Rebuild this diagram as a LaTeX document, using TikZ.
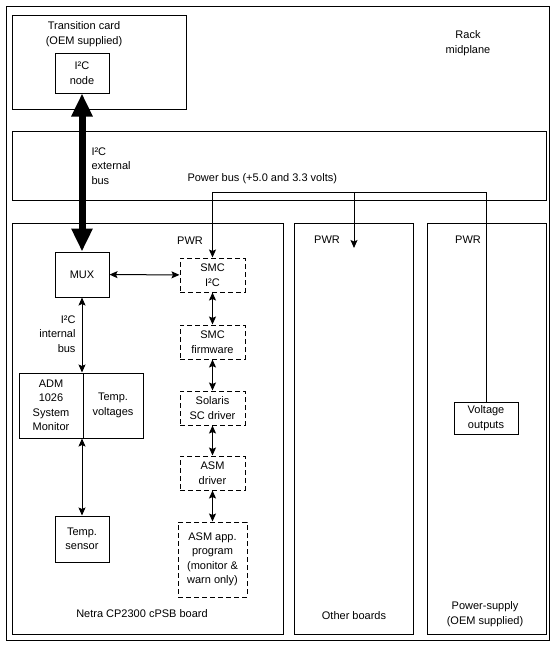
\documentclass[tikz,border=0pt]{standalone}
\usepackage{fontspec}
\setmainfont{Liberation Sans}
\usetikzlibrary{
  positioning,
  arrows.meta
}
\tikzset{
  >={Stealth[length=8pt,width=7pt,inset=1.5pt]},
  x=1pt, y=-1pt,
  every node/.style={font=\fontsize{11}{14.5}\selectfont, align=center, inner sep=0pt},
  frame/.style={draw, anchor=north west},
  unit/.style={draw, minimum width=54pt, minimum height=40pt},
  soft/.style={draw, dash pattern=on 5pt off 3pt, minimum width=65pt, minimum height=34pt},
  bus/.style={<->},
  fat/.style={{Triangle[width=20pt,length=23pt]}-{Triangle[width=20pt,length=23pt]}, line width=7pt}
}

\begin{document}
\begin{tikzpicture}[line width=1pt]
    \useasboundingbox (0,0) rectangle (556,645);
    % rack and boards
    \node[frame, minimum width=543pt, minimum height=634pt] (rack) at (6,6) {};
    \node[frame, minimum width=174pt, minimum height=94pt] (trans) at (12,15) {};
    \node[frame, minimum width=534pt, minimum height=69pt] (midbus) at (12,131) {};
    \node[frame, minimum width=271pt, minimum height=411pt] (netra) at (12,223) {};
    \node[frame, minimum width=119pt, minimum height=411pt] (other) at (294,223) {};
    \node[frame, minimum width=119pt, minimum height=411pt] (psu) at (427,223) {};

    % labels
    \node (translbl) at (84,34) {Transition card\\(OEM supplied)};
    \node (racklbl) at (468,43) {Rack\\midplane};
    \node[anchor=west, align=left] (extlbl) at (91,166) {I²C\\external\\bus};
    \node[anchor=west] (pwrbus) at (187,179) {Power bus (+5.0 and 3.3 volts)};
    \node[anchor=east, align=right] (intlbl) at (76,334) {I²C\\internal\\bus};
    \node (netralbl) at (142,614) {Netra CP2300 cPSB board};
    \node (otherlbl) at (354,616) {Other boards};
    \node (psulbl) at (485,614) {Power-supply\\(OEM supplied)};
    \node (pwr1) at (190,241) {PWR};
    \node (pwr2) at (327,240) {PWR};
    \node (pwr3) at (468,240) {PWR};

    % devices
    \node[unit] (i2c) at (82,73) {I²C\\node};
    \node[unit, minimum height=45pt] (mux) at (82,274.5) {MUX};
    \node[unit, minimum width=64pt, minimum height=65pt] (adm) at (51,405.5) {ADM\\1026\\System\\Monitor};
    \node[unit, minimum width=60pt, minimum height=65pt, right=-1pt of adm] (temps) {Temp.\\voltages};
    \node[unit, minimum height=46pt] (sensor) at (82,539) {Temp.\\sensor};
    \node[unit, minimum width=64pt, minimum height=32pt] (vout) at (486,418) {Voltage\\outputs};

    % software stack
    \node[soft] (smc) at (212.5,275) {SMC\\I²C};
    \node[soft, below=32pt of smc] (fw) {SMC\\firmware};
    \node[soft, below=31pt of fw] (scdrv) {Solaris\\SC driver};
    \node[soft, below=30pt of scdrv] (asmdrv) {ASM\\driver};
    \node[soft, below=31pt of asmdrv, minimum width=69pt, minimum height=75pt] (asmapp) {ASM app.\\program\\(monitor \&\\warn only)};

    % I2C connections
    \draw[fat] (mux.north) -- (i2c.south);
    \draw (mux) edge[bus] (smc);
    \draw (smc) edge[bus] (fw);
    \draw (fw) edge[bus] (scdrv);
    \draw (scdrv) edge[bus] (asmdrv);
    \draw (asmdrv) edge[bus] (asmapp);
    \draw[bus] (mux.south) -- (mux.south |- adm.north);
    \draw[bus] (sensor.north) -- (sensor.north |- adm.south);

    % power bus
    \coordinate (tap) at (354,192);
    \coordinate (otherin) at (354,248);
    \draw[->] (vout.north) |- (smc.north |- tap) -- (smc.north);
    \draw[->] (tap) -- (otherin);
  \end{tikzpicture}
\end{document}
